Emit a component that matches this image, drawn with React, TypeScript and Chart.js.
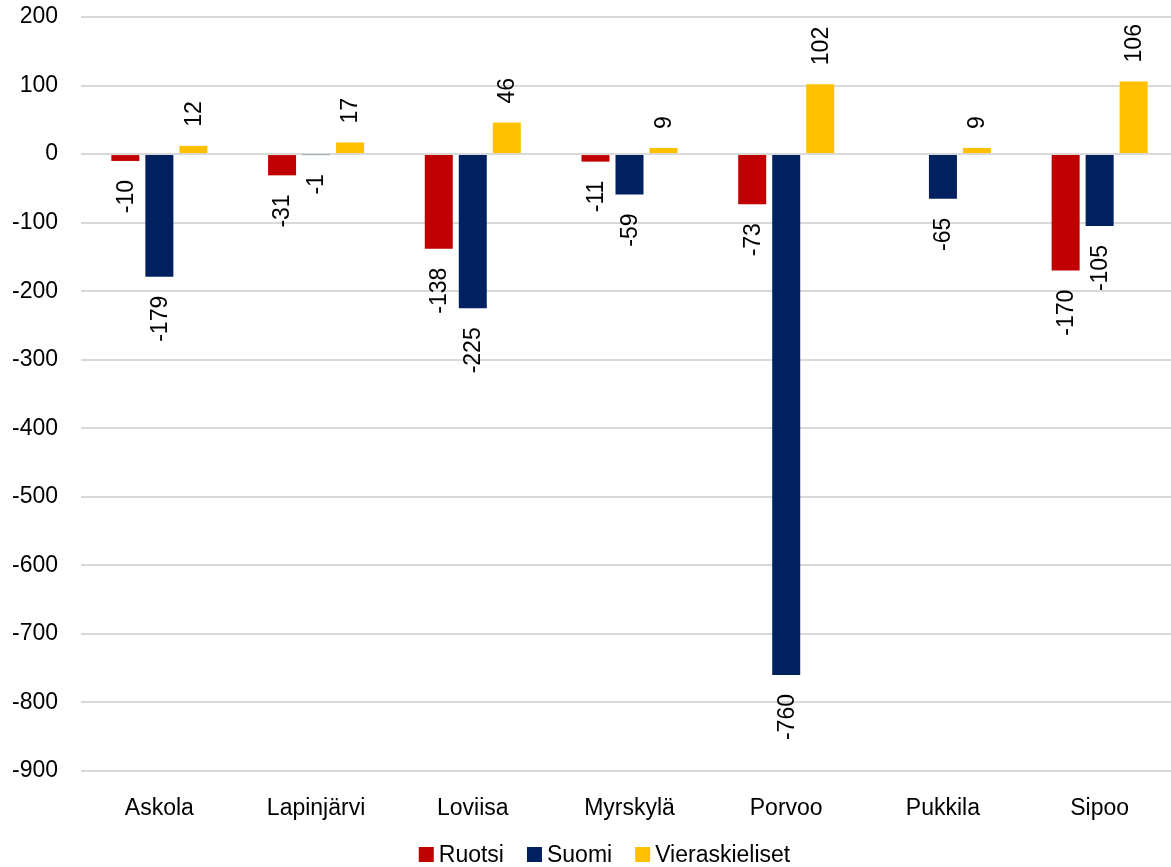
import React, { useEffect, useRef } from "react";
import { Chart, registerables } from "chart.js";

Chart.register(...registerables);

const categories = ["Askola", "Lapinjärvi", "Loviisa", "Myrskylä", "Porvoo", "Pukkila", "Sipoo"];
const ruotsi: (number | null)[] = [-10, -31, -138, -11, -73, null, -170];
const suomi: (number | null)[] = [-179, -1, -225, -59, -760, -65, -105];
const vieraskieliset: (number | null)[] = [12, 17, 46, 9, 102, 9, 106];
const seriesNames = ["Ruotsi", "Suomi", "Vieraskieliset"];
const seriesColors = ["#C00000", "#002060", "#FFC000"];
const yMin = -900;
const yMax = 200;
const yStep = 100;

const FONT = "'Liberation Sans', Arial, sans-serif";
const FONT_SIZE = 23;

const dataLabelPlugin = {
  id: "dataLabels",
  afterDatasetsDraw(chart: any) {
    const ctx = chart.ctx;
    ctx.save();
    ctx.font = `${FONT_SIZE}px ${FONT}`;
    ctx.fillStyle = "#000";
    ctx.textBaseline = "middle";
    chart.data.datasets.forEach((ds: any, i: number) => {
      const meta = chart.getDatasetMeta(i);
      meta.data.forEach((el: any, j: number) => {
        const v = ds.data[j];
        if (v === null || v === undefined) return;
        const gap = 19;
        ctx.save();
        if (v >= 0) {
          ctx.translate(el.x, Math.min(el.y, el.base) - gap);
          ctx.rotate(-Math.PI / 2);
          ctx.textAlign = "left";
        } else {
          ctx.translate(el.x, Math.max(el.y, el.base) + gap);
          ctx.rotate(-Math.PI / 2);
          ctx.textAlign = "right";
        }
        ctx.fillText(String(v), 0, 1);
        ctx.restore();
      });
    });
    ctx.restore();
  },
};

const legendPlugin = {
  id: "customLegend",
  afterDraw(chart: any) {
    const ctx = chart.ctx;
    ctx.save();
    ctx.font = `${FONT_SIZE}px ${FONT}`;
    ctx.textBaseline = "middle";
    ctx.textAlign = "left";
    const box = 15;
    const textGap = 5;
    const itemGap = 23;
    const items = chart.data.datasets.map((ds: any) => ({
      label: ds.label,
      color: ds.backgroundColor,
      w: box + textGap + ctx.measureText(ds.label).width,
    }));
    const total = items.reduce((s: number, it: any) => s + it.w, 0) + itemGap * (items.length - 1);
    const centerX = 604.5;
    const cy = 854.5;
    let x = centerX - total / 2;
    items.forEach((it: any) => {
      ctx.fillStyle = it.color;
      ctx.fillRect(x, cy - box / 2, box, box);
      ctx.fillStyle = "#000";
      ctx.fillText(it.label, x + box + textGap, cy + 1);
      x += it.w + itemGap;
    });
    ctx.restore();
  },
};

export default function App() {
  const ref = useRef<HTMLCanvasElement | null>(null);
  useEffect(() => {
    if (!ref.current) return;
    const seriesData = [ruotsi, suomi, vieraskieliset];
    const chart = new Chart(ref.current, {
      type: "bar",
      data: {
        labels: categories,
        datasets: seriesNames.map((name, i) => ({
          label: name,
          data: seriesData[i] as any,
          backgroundColor: seriesColors[i],
          borderWidth: 0,
          categoryPercentage: 0.651,
          barPercentage: 0.8235,
        })),
      },
      options: {
        responsive: false,
        animation: false,
        layout: { padding: { top: 17, left: 0, right: 0, bottom: 0 } },
        plugins: {
          legend: { display: false },
          tooltip: { enabled: false },
        },
        scales: {
          x: {
            grid: { display: false },
            border: { display: false },
            ticks: {
              color: "#000",
              font: { family: FONT, size: FONT_SIZE },
              padding: 16,
              maxRotation: 0,
              autoSkip: false,
            },
            afterFit: (scale: any) => {
              scale.height = 96;
            },
          },
          y: {
            min: yMin,
            max: yMax,
            grid: { color: "#D9D9D9", lineWidth: 2, drawTicks: false },
            border: { display: false },
            ticks: {
              stepSize: yStep,
              color: "#000",
              font: { family: FONT, size: FONT_SIZE },
              padding: 23,
            },
            afterFit: (scale: any) => {
              scale.width = 81;
              scale.paddingTop = 0;
              scale.paddingBottom = 0;
            },
          },
        },
      },
      plugins: [dataLabelPlugin, legendPlugin],
    });
    return () => chart.destroy();
  }, []);
  return (
    <div
      style={{
        position: "fixed",
        left: 0,
        top: 0,
        width: 1171,
        height: 867,
        overflow: "hidden",
        background: "#fff",
      }}
    >
      <canvas ref={ref} width={1178} height={867} style={{ width: 1178, height: 867, display: "block" }} />
    </div>
  );
}
